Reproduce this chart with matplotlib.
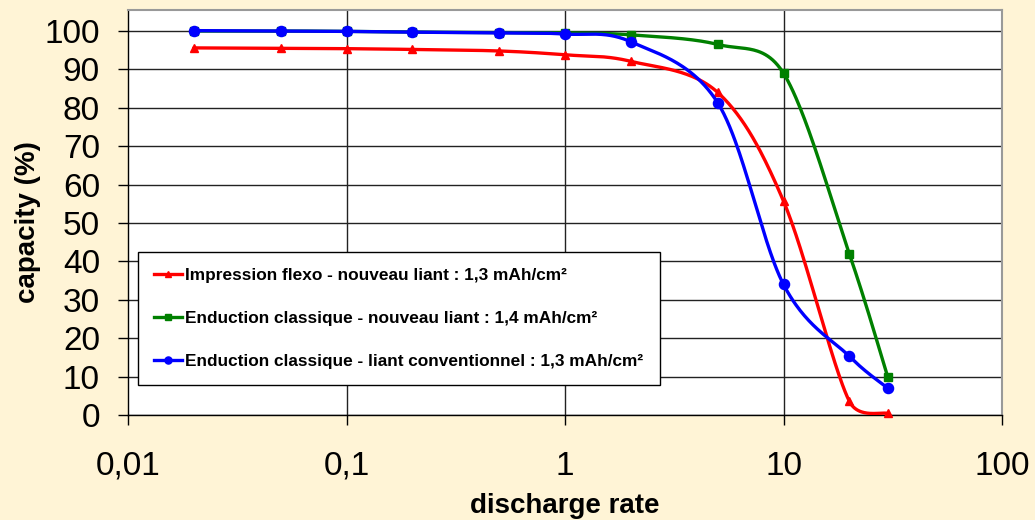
import numpy as np
import matplotlib
matplotlib.use("Agg")
import matplotlib.pyplot as plt

plt.rcParams['font.family'] = ['Liberation Sans', 'DejaVu Sans']

# ---- data ----
rates = [0.02, 0.05, 0.1, 0.2, 0.5, 1, 2, 5, 10, 20, 30]
flexo_new = [95.6, 95.5, 95.4, 95.2, 94.8, 93.8, 92.1, 84.0, 55.7, 3.6, 0.4]
classic_new = [100.0, 100.0, 99.9, 99.7, 99.6, 99.5, 99.0, 96.5, 89.0, 42.0, 9.9]
classic_conv = [100.1, 100.0, 99.9, 99.7, 99.5, 99.2, 97.2, 81.3, 34.0, 15.3, 7.0]

labels = ["Impression flexo - nouveau liant : 1,3 mAh/cm²",
          "Enduction classique - nouveau liant : 1,4 mAh/cm²",
          "Enduction classique - liant conventionnel : 1,3 mAh/cm²"]
colors = ['#FF0000', '#008000', '#0000FF']
markers = ['^', 's', 'o']
msizes = [6.3, 5.8, 7.3]

xticks = [0.01, 0.1, 1, 10, 100]
xticklabels = ['0,01', '0,1', '1', '10', '100']
yticks = list(range(0, 101, 10))

BG = '#FFF4D6'

fig = plt.figure(figsize=(10.35, 5.2), dpi=100, facecolor=BG)
ax = fig.add_axes([128/1035, 1-415/520, 874/1035, 405/520])
ax.set_facecolor('white')
ax.set_xscale('log')
ax.set_xlim(0.01, 100)
ax.set_ylim(0, 405/3.84)

# smoothing like Excel (Bezier in display space, control arms limited)
SX, SY = 218.5, 3.84
def smooth(xs, ys, n=50):
    P = np.column_stack([np.log10(xs)*SX, np.array(ys)*SY])
    m = len(P)
    out = [P[0]]
    for i in range(m-1):
        p0 = P[i-1] if i > 0 else P[i]
        p1 = P[i]
        p2 = P[i+1]
        p3 = P[i+2] if i+2 < m else P[i+1]
        d12 = np.hypot(*(p2 - p1))
        d02 = np.hypot(*(p2 - p0))
        d13 = np.hypot(*(p3 - p1))
        if d02/6 < d12/2:
            c1 = p1 + (p2 - p0)/6.0
        else:
            c1 = p1 + (p2 - p0)*(d12/2)/d02 if d02 > 0 else p1
        if d13/6 < d12/2:
            c2 = p2 - (p3 - p1)/6.0
        else:
            c2 = p2 - (p3 - p1)*(d12/2)/d13 if d13 > 0 else p2
        t = np.linspace(0, 1, n)[1:, None]
        seg = ((1-t)**3)*p1 + 3*((1-t)**2)*t*c1 + 3*(1-t)*t**2*c2 + t**3*p2
        out.extend(seg)
    out = np.array(out)
    return 10**(out[:, 0]/SX), out[:, 1]/SY

series = [flexo_new, classic_new, classic_conv]
handles = []
for ys, c, mk, ms, lab in zip(series, colors, markers, msizes, labels):
    sx, sy = smooth(rates, ys)
    ax.plot(sx, sy, color=c, lw=2.4, zorder=3, solid_capstyle='round')
    ax.plot(rates, ys, ls='none', marker=mk, ms=ms, color=c, mec=c, zorder=3, clip_on=False)
    h, = ax.plot([], [], color=c, lw=2.4, marker=mk, ms=ms*0.7, mec=c, label=lab)
    handles.append(h)

# grid
for y in yticks:
    ax.axhline(y, color='#222222', lw=1.0, zorder=1)
for x in xticks[1:-1]:
    ax.axvline(x, color='#222222', lw=1.0, zorder=1)

ax.set_xticks(xticks)
ax.set_xticklabels(xticklabels)
ax.xaxis.set_minor_locator(matplotlib.ticker.NullLocator())
ax.set_yticks(yticks)
ax.tick_params(axis='both', which='major', direction='out', length=7.2, width=1.0,
               color='black', labelsize=24, labelcolor='black')
ax.tick_params(axis='y', pad=13)
ax.tick_params(axis='x', pad=18.5)

for s in ['left', 'bottom']:
    ax.spines[s].set_color('black')
    ax.spines[s].set_linewidth(1.0)
for s in ['top', 'right']:
    ax.spines[s].set_color('#999999')
    ax.spines[s].set_linewidth(1.5)

ax.set_ylabel('capacity (%)', fontsize=20, fontweight='bold')
ax.set_xlabel('discharge rate', fontsize=20, fontweight='bold', va='top')
ax.yaxis.set_label_coords(-0.099, (415-222)/405)
ax.xaxis.set_label_coords(0.5, (415-493)/405)

leg = fig.legend(handles=handles, loc='upper left',
                 bbox_to_anchor=(138/1035, 1-252/520), bbox_transform=fig.transFigure,
                 borderaxespad=0, frameon=True, fancybox=False, shadow=False,
                 prop={'size': 12.4, 'weight': 'bold'}, handlelength=1.6,
                 handletextpad=0.2, labelspacing=1.6, borderpad=0.95)
leg.get_frame().set_edgecolor('black')
leg.get_frame().set_linewidth(1.0)
leg.get_frame().set_facecolor('white')
leg.get_frame().set_alpha(1)
leg.set_zorder(10)

fig.savefig('out.png', dpi=100, facecolor=BG)
